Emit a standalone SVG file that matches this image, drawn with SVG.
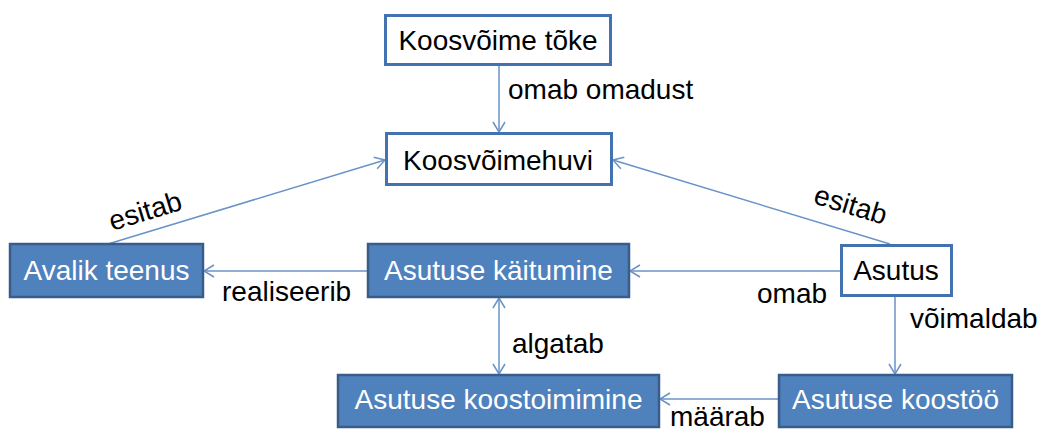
<svg xmlns="http://www.w3.org/2000/svg" width="1044" height="432" viewBox="0 0 1044 432">
<style>
.lbl{font-family:"Liberation Sans",Arial,sans-serif;font-size:28px;fill:#000}
.nt{font-family:"Liberation Sans",Arial,sans-serif;font-size:28px;text-anchor:middle}
.wbox{fill:#fff;stroke:#4272B0;stroke-width:3}
.bbox{fill:#4F81BD;stroke:#385D8A;stroke-width:2.5}
.wt{fill:#000}
.bt{fill:#fff}
.con{stroke:#6A93C8;stroke-width:1.5;fill:none}
</style>
<defs>
<marker id="arr" markerUnits="userSpaceOnUse" markerWidth="14" markerHeight="14" refX="11" refY="7" orient="auto-start-reverse" viewBox="0 0 14 14">
<path d="M1,1 L11,7 L1,13" fill="none" stroke="#6A93C8" stroke-width="1.5"/>
</marker>
</defs>
<rect width="1044" height="432" fill="#fff"/>
<g id="connectors">
<line class="con" x1="499" y1="65" x2="499" y2="132" marker-end="url(#arr)"/>
<line class="con" x1="108" y1="244" x2="385" y2="160" marker-end="url(#arr)"/>
<line class="con" x1="890" y1="244" x2="613" y2="160" marker-end="url(#arr)"/>
<line class="con" x1="841" y1="271" x2="630" y2="271" marker-end="url(#arr)"/>
<line class="con" x1="368" y1="271" x2="204" y2="271" marker-end="url(#arr)"/>
<line class="con" x1="499" y1="298" x2="499" y2="374" marker-start="url(#arr)" marker-end="url(#arr)"/>
<line class="con" x1="895" y1="297" x2="895" y2="374" marker-end="url(#arr)"/>
<line class="con" x1="779" y1="399" x2="660" y2="399" marker-end="url(#arr)"/>
</g>
<g id="labels">
<text class="lbl" x="508" y="99">omab omadust</text>
<text class="lbl" text-anchor="middle" transform="translate(148,220) rotate(-17)">esitab</text>
<text class="lbl" text-anchor="middle" transform="translate(848,214) rotate(17)">esitab</text>
<text class="lbl" x="222" y="301">realiseerib</text>
<text class="lbl" x="757" y="303">omab</text>
<text class="lbl" x="910" y="328">võimaldab</text>
<text class="lbl" x="512" y="353">algatab</text>
<text class="lbl" x="670" y="426">määrab</text>
</g>
<g id="n-koosvoime-toke">
<rect class="wbox" x="385.5" y="15.5" width="225" height="49"/>
<text class="nt wt" x="498" y="50">Koosvõime tõke</text>
</g>
<g id="n-koosvoimehuvi">
<rect class="wbox" x="386.5" y="133.5" width="225" height="51"/>
<text class="nt wt" x="498" y="170">Koosvõimehuvi</text>
</g>
<g id="n-avalik-teenus">
<rect class="bbox" x="10" y="244" width="193" height="53"/>
<text class="nt bt" x="106.5" y="280">Avalik teenus</text>
</g>
<g id="n-asutuse-kaitumine">
<rect class="bbox" x="368" y="244" width="261" height="53"/>
<text class="nt bt" x="498.5" y="280">Asutuse käitumine</text>
</g>
<g id="n-asutus">
<rect class="wbox" x="841.5" y="245.5" width="110" height="50"/>
<text class="nt wt" x="896" y="280">Asutus</text>
</g>
<g id="n-asutuse-koostoimimine">
<rect class="bbox" x="338" y="375" width="321" height="52"/>
<text class="nt bt" x="498.5" y="409">Asutuse koostoimimine</text>
</g>
<g id="n-asutuse-koostoo">
<rect class="bbox" x="779" y="375" width="233" height="52"/>
<text class="nt bt" x="895.5" y="409">Asutuse koostöö</text>
</g>
</svg>
